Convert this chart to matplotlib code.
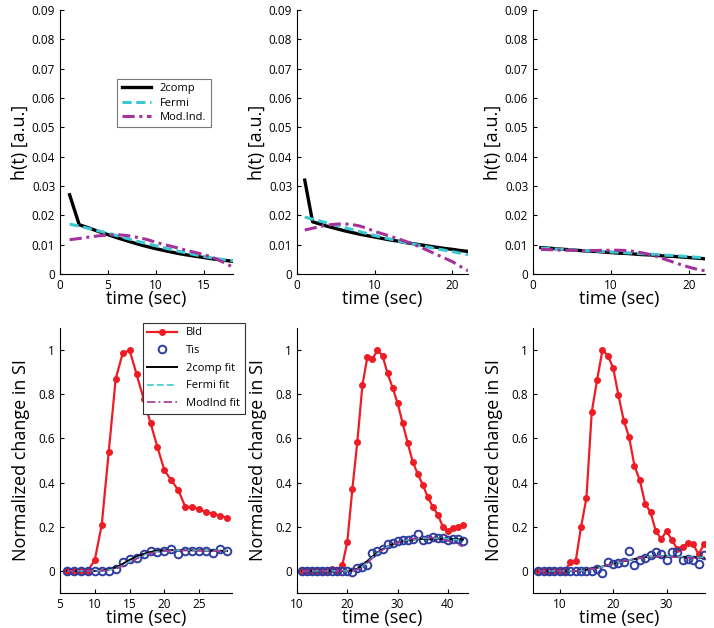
import matplotlib
matplotlib.use("Agg")
import matplotlib.pyplot as plt
import numpy as np

plt.rcParams["font.family"] = ["Open Sans", "DejaVu Sans"]

## IMPULSE RESPONSES (top row)
t_h1 = list(range(1, 19))
h1_2comp = [0.027, 0.0168, 0.0157, 0.0145, 0.0134, 0.0123, 0.0113, 0.0103, 0.0094,
            0.0086, 0.0079, 0.0072, 0.0066, 0.0061, 0.0056, 0.0051, 0.0047, 0.0043]
h1_fermi = [0.0170, 0.0163, 0.0155, 0.0147, 0.0139, 0.0130, 0.0121, 0.0112, 0.0104,
            0.0096, 0.0088, 0.0080, 0.0073, 0.0066, 0.0060, 0.0054, 0.0049, 0.0045]
h1_modind = [0.0117, 0.0121, 0.0126, 0.0130, 0.0133, 0.0134, 0.0131, 0.0125, 0.0118,
             0.0108, 0.0099, 0.0091, 0.0082, 0.0074, 0.0066, 0.0055, 0.0040, 0.0023]

t_h2 = list(range(1, 23))
h2_2comp = [0.032, 0.0178, 0.0170, 0.0162, 0.0155, 0.0148, 0.0142, 0.0136, 0.0131, 0.0126, 0.0121,
            0.0116, 0.0112, 0.0107, 0.0103, 0.0099, 0.0095, 0.0091, 0.0087, 0.0084, 0.0080, 0.0077]
h2_fermi = [0.0194, 0.0187, 0.0180, 0.0173, 0.0166, 0.0159, 0.0152, 0.0145, 0.0138, 0.0131, 0.0125,
            0.0119, 0.0113, 0.0107, 0.0102, 0.0096, 0.0091, 0.0086, 0.0081, 0.0076, 0.0071, 0.0066]
h2_modind = [0.0150, 0.0156, 0.0162, 0.0167, 0.0170, 0.0171, 0.0169, 0.0164, 0.0156, 0.0145, 0.0137,
             0.0129, 0.0120, 0.0111, 0.0101, 0.0090, 0.0078, 0.0066, 0.0054, 0.0042, 0.0026, 0.0011]

t_h3 = list(range(1, 23))
h3_2comp = [0.0090, 0.0088, 0.0086, 0.0084, 0.0082, 0.0080, 0.0078, 0.0077, 0.0075, 0.0073, 0.0071,
            0.0070, 0.0068, 0.0066, 0.0065, 0.0063, 0.0061, 0.0060, 0.0058, 0.0056, 0.0054, 0.0052]
h3_fermi = [0.0088, 0.0087, 0.0085, 0.0084, 0.0082, 0.0081, 0.0079, 0.0078, 0.0077, 0.0075, 0.0074,
            0.0072, 0.0071, 0.0069, 0.0068, 0.0066, 0.0064, 0.0063, 0.0061, 0.0059, 0.0057, 0.0055]
h3_modind = [0.0084, 0.0083, 0.0082, 0.0081, 0.0081, 0.0080, 0.0080, 0.0080, 0.0081, 0.0081, 0.0081,
             0.0080, 0.0077, 0.0072, 0.0066, 0.0058, 0.0049, 0.0040, 0.0031, 0.0023, 0.0016, 0.0011]

## SIGNAL CURVES (bottom row)
t_s1 = list(range(6, 30))
bld1 = [0, 0, 0, 0, 0.05, 0.21, 0.54, 0.87, 0.985, 1.0, 0.89, 0.78, 0.67, 0.56, 0.455, 0.41,
        0.365, 0.29, 0.29, 0.28, 0.265, 0.26, 0.25, 0.24]
tis1 = [0, 0, 0, 0, 0, 0, 0, 0.01, 0.04, 0.055, 0.06, 0.075, 0.09, 0.085, 0.09, 0.1,
        0.075, 0.09, 0.09, 0.09, 0.09, 0.08, 0.1, 0.09]
fit2c1 = [0, 0, 0, 0, 0, 0.002, 0.006, 0.015, 0.032, 0.05, 0.065, 0.077, 0.086, 0.091, 0.093, 0.094,
          0.094, 0.094, 0.093, 0.093, 0.092, 0.092, 0.091, 0.091]
fitfe1 = [0, 0, 0, 0, 0, 0.001, 0.004, 0.011, 0.025, 0.042, 0.058, 0.071, 0.081, 0.087, 0.091, 0.093,
          0.094, 0.094, 0.094, 0.093, 0.093, 0.092, 0.092, 0.091]
fitmi1 = [0, 0, 0, 0, 0, 0.001, 0.003, 0.009, 0.022, 0.039, 0.055, 0.069, 0.079, 0.086, 0.09, 0.092,
          0.093, 0.093, 0.093, 0.092, 0.091, 0.09, 0.089, 0.088]

t_s2 = list(range(11, 44))
bld2 = [0, 0, 0, 0, 0, 0, 0.01, 0.0, 0.026, 0.13, 0.37, 0.585, 0.84, 0.97, 0.96, 1.0, 0.975,
        0.895, 0.83, 0.76, 0.67, 0.58, 0.495, 0.44, 0.39, 0.335, 0.29, 0.255, 0.2, 0.18, 0.195, 0.2, 0.21]
tis2 = [0, 0, 0, 0, 0, 0, 0, 0, 0, 0, -0.005, 0.015, 0.02, 0.025, 0.08, 0.09, 0.1, 0.12, 0.125,
        0.135, 0.14, 0.14, 0.145, 0.165, 0.14, 0.145, 0.155, 0.15, 0.15, 0.14, 0.145, 0.145, 0.135]
fit2c2 = [0, 0, 0, 0, 0, 0, 0, 0, 0, 0, 0.002, 0.01, 0.025, 0.045, 0.065, 0.083, 0.098, 0.11, 0.12,
          0.128, 0.134, 0.139, 0.142, 0.144, 0.145, 0.146, 0.146, 0.146, 0.145, 0.145, 0.144, 0.143, 0.142]
fitfe2 = [0, 0, 0, 0, 0, 0, 0, 0, 0, 0, 0.001, 0.007, 0.02, 0.04, 0.061, 0.08, 0.096, 0.109, 0.12,
          0.128, 0.135, 0.14, 0.143, 0.146, 0.147, 0.148, 0.148, 0.147, 0.146, 0.145, 0.143, 0.14, 0.137]
fitmi2 = [0, 0, 0, 0, 0, 0, 0, 0, 0, 0, 0.001, 0.006, 0.018, 0.037, 0.058, 0.078, 0.095, 0.109, 0.12,
          0.129, 0.136, 0.142, 0.146, 0.149, 0.151, 0.151, 0.15, 0.147, 0.142, 0.136, 0.128, 0.12, 0.11]

t_s3 = list(range(6, 38))
bld3 = [0, 0, 0, 0, 0, 0, 0.04, 0.045, 0.2, 0.33, 0.72, 0.865, 1.0, 0.975, 0.92, 0.795, 0.68,
        0.605, 0.475, 0.41, 0.305, 0.265, 0.18, 0.145, 0.18, 0.14, 0.1, 0.11, 0.125, 0.12, 0.075, 0.12]
tis3 = [0, 0, 0, 0, 0, 0, 0, 0, 0, 0, 0, 0.01, -0.01, 0.04, 0.03, 0.035, 0.04, 0.09, 0.025, 0.05,
        0.06, 0.07, 0.085, 0.075, 0.05, 0.085, 0.085, 0.05, 0.055, 0.05, 0.03, 0.07]
fit2c3 = [0, 0, 0, 0, 0, 0, 0, 0, 0.002, 0.005, 0.009, 0.014, 0.02, 0.026, 0.032, 0.038, 0.044,
          0.049, 0.054, 0.058, 0.062, 0.064, 0.066, 0.066, 0.066, 0.065, 0.064, 0.063, 0.062, 0.062, 0.061, 0.06]
fitfe3 = [0, 0, 0, 0, 0, 0, 0, 0, 0.001, 0.004, 0.008, 0.013, 0.019, 0.025, 0.031, 0.037, 0.043,
          0.049, 0.054, 0.058, 0.062, 0.065, 0.067, 0.067, 0.067, 0.066, 0.065, 0.064, 0.063, 0.062, 0.061, 0.061]
fitmi3 = [0, 0, 0, 0, 0, 0, 0, 0, 0.001, 0.004, 0.008, 0.013, 0.019, 0.026, 0.033, 0.039, 0.045,
          0.05, 0.055, 0.059, 0.062, 0.064, 0.065, 0.065, 0.064, 0.063, 0.062, 0.061, 0.06, 0.059, 0.058, 0.057]

## STYLE
RED = "#ee1c24"
BLUE = "#2e3da0"
CYAN = "#3cc8d2"
MAGENTA = "#a3339b"

W, H = 714, 628
fig = plt.figure(figsize=(W / 100, H / 100), dpi=100)


def px_axes(x0, x1, y0, y1):
    # axes from pixel box (top-left origin)
    return fig.add_axes([x0 / W, 1 - y1 / H, (x1 - x0) / W, (y1 - y0) / H])


def style(ax):
    ax.spines["top"].set_visible(False)
    ax.spines["right"].set_visible(False)
    ax.tick_params(direction="in", length=3, labelsize=8.5, width=0.8)
    ax.set_xlabel("time (sec)", fontsize=13, labelpad=-1)


top_boxes = [(60, 233), (297, 468), (533, 705)]
h_data = [
    (t_h1, h1_2comp, h1_fermi, h1_modind, 18, [0, 5, 10, 15]),
    (t_h2, h2_2comp, h2_fermi, h2_modind, 22, [0, 10, 20]),
    (t_h3, h3_2comp, h3_fermi, h3_modind, 22, [0, 10, 20]),
]
h_ticks = np.arange(0, 0.0901, 0.01)
h_labels = ["0"] + ["%.2f" % v for v in h_ticks[1:]]

for i, ((x0, x1), (t, c2, fe, mi, xmax, xt)) in enumerate(zip(top_boxes, h_data)):
    ax = px_axes(x0, x1, 10, 274)
    ax.plot(t, c2, color="black", lw=2.4, label="2comp")
    ax.plot(t, fe, color=CYAN, lw=2.2, ls=(0, (3, 1.5)), label="Fermi")
    ax.plot(t, mi, color=MAGENTA, lw=2.2, ls=(0, (4, 1.5, 1, 1.5)), label="Mod.Ind.")
    ax.set_xlim(0, xmax)
    ax.set_ylim(0, 0.09)
    ax.set_xticks(xt)
    ax.set_yticks(h_ticks)
    ax.set_yticklabels(h_labels)
    style(ax)
    ax.set_ylabel("h(t) [a.u.]", fontsize=13, labelpad=2)
    if i == 0:
        leg = ax.legend(loc="upper left", bbox_to_anchor=(0.30, 0.76), fontsize=8,
                        frameon=True, fancybox=False, edgecolor="#555555",
                        handlelength=2.6, borderpad=0.4, labelspacing=0.3)
        leg.get_frame().set_linewidth(0.8)

bot_boxes = [(60, 232), (297, 468), (533, 705)]
s_data = [
    (t_s1, bld1, tis1, fit2c1, fitfe1, fitmi1, (5, 29.7), [5, 10, 15, 20, 25]),
    (t_s2, bld2, tis2, fit2c2, fitfe2, fitmi2, (10, 44), [10, 20, 30, 40]),
    (t_s3, bld3, tis3, fit2c3, fitfe3, fitmi3, (5, 37.2), [10, 20, 30]),
]
for i, ((x0, x1), (t, bld, tis, f2, ff, fm, xl, xt)) in enumerate(zip(bot_boxes, s_data)):
    ax = px_axes(x0, x1, 328, 593)
    ax.plot(t, bld, color=RED, lw=1.6, marker="o", ms=4, label="Bld")
    ax.plot(t, tis, ls="none", marker="o", ms=5.5, mfc="none", mec=BLUE, mew=1.4, label="Tis")
    ax.plot(t, f2, color="black", lw=1.4, label="2comp fit")
    ax.plot(t, ff, color=CYAN, lw=1.2, ls=(0, (4, 2)), label="Fermi fit")
    ax.plot(t, fm, color=MAGENTA, lw=1.2, ls=(0, (5, 2, 1, 2)), label="ModInd fit")
    ax.set_xlim(*xl)
    ax.set_ylim(-0.1, 1.1)
    ax.set_xticks(xt)
    ax.set_yticks([0, 0.2, 0.4, 0.6, 0.8, 1])
    ax.set_yticklabels(["0", "0.2", "0.4", "0.6", "0.8", "1"])
    style(ax)
    ax.set_ylabel("Normalized change in SI", fontsize=13, labelpad=6)
    if i == 0:
        leg = ax.legend(loc="upper left", bbox_to_anchor=(0.45, 1.04), fontsize=8,
                        frameon=True, fancybox=False, edgecolor="#333333",
                        handlelength=2.7, borderpad=0.4, labelspacing=0.6, framealpha=1)
        leg.get_frame().set_linewidth(0.8)

fig.savefig("out.png", dpi=100)
